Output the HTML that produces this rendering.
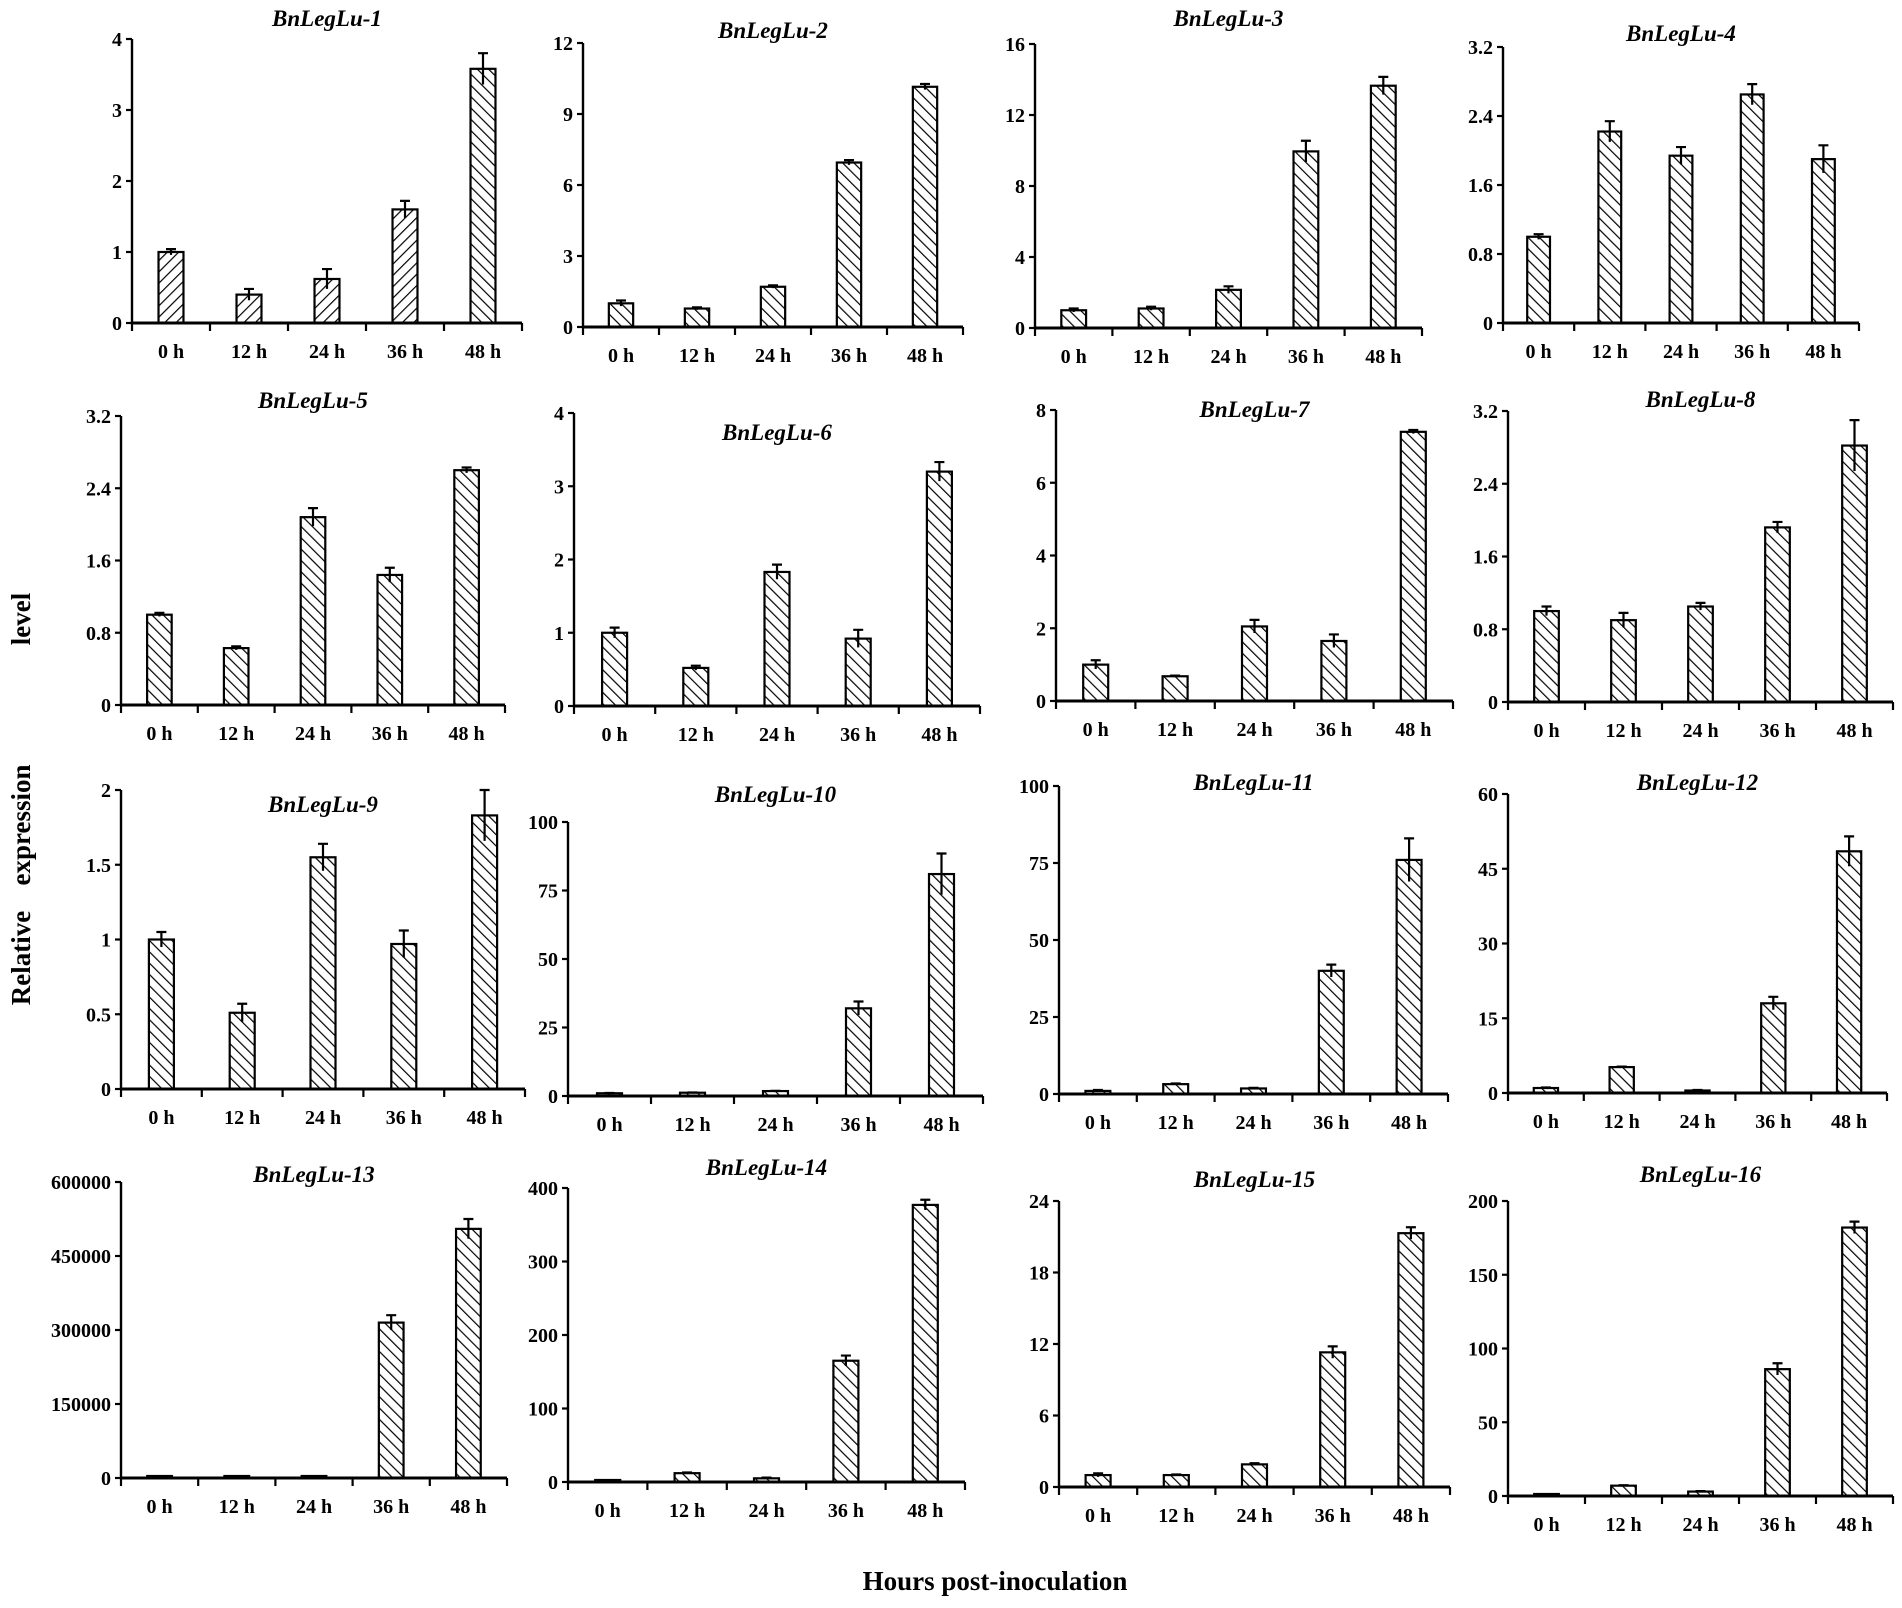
<!DOCTYPE html>
<html><head><meta charset="utf-8"><style>
html,body{margin:0;padding:0;background:#fff;}
svg{display:block;}
text{font-family:"Liberation Serif",serif;font-weight:bold;fill:#000;}
</style></head><body>
<svg id="fig" width="1902" height="1608" viewBox="0 0 1902 1608" xmlns="http://www.w3.org/2000/svg">
<defs>
<pattern id="hatchB" patternUnits="userSpaceOnUse" width="8" height="8" patternTransform="rotate(-45)">
<rect width="8" height="8" fill="#fff"/><line x1="0" y1="0" x2="0" y2="8" stroke="#000" stroke-width="2.4"/></pattern>
<pattern id="hatchF" patternUnits="userSpaceOnUse" width="8" height="8" patternTransform="rotate(45)">
<rect width="8" height="8" fill="#fff"/><line x1="0" y1="0" x2="0" y2="8" stroke="#000" stroke-width="2.4"/></pattern>
</defs>
<text transform="translate(30,958) rotate(-90)" text-anchor="middle" font-size="27">Relative</text>
<text transform="translate(30,825) rotate(-90)" text-anchor="middle" font-size="27">expression</text>
<text transform="translate(30,619) rotate(-90)" text-anchor="middle" font-size="27">level</text>
<text x="995" y="1590" text-anchor="middle" font-size="27">Hours post-inoculation</text>
</svg>
<script>
const categories = ["0 h","12 h","24 h","36 h","48 h"];
const titles = ["BnLegLu-1","BnLegLu-2","BnLegLu-3","BnLegLu-4","BnLegLu-5","BnLegLu-6","BnLegLu-7","BnLegLu-8","BnLegLu-9","BnLegLu-10","BnLegLu-11","BnLegLu-12","BnLegLu-13","BnLegLu-14","BnLegLu-15","BnLegLu-16"];
const seriesValues = [
 [1.0,0.4,0.62,1.6,3.58],
 [1.0,0.78,1.7,6.95,10.15],
 [1.0,1.1,2.15,9.95,13.65],
 [1.0,2.22,1.94,2.65,1.9],
 [1.0,0.63,2.08,1.44,2.6],
 [1.0,0.52,1.83,0.92,3.2],
 [1.0,0.68,2.05,1.65,7.4],
 [1.0,0.9,1.05,1.92,2.82],
 [1.0,0.51,1.55,0.97,1.83],
 [1,1.2,1.8,32,81],
 [1,3.2,1.8,40,76],
 [1,5.2,0.5,18,48.5],
 [1,1,1,315000,505000],
 [1,12,5,165,377],
 [1,1,1.9,11.3,21.3],
 [1,7,3,86,182]
];
const seriesErrors = [
 [0.04,0.08,0.14,0.12,0.22],
 [0.12,0.05,0.06,0.1,0.12],
 [0.1,0.1,0.2,0.6,0.5],
 [0.03,0.12,0.1,0.12,0.16],
 [0.02,0.02,0.1,0.08,0.03],
 [0.07,0.03,0.1,0.12,0.13],
 [0.12,0.02,0.18,0.18,0.05],
 [0.05,0.08,0.04,0.06,0.28],
 [0.05,0.06,0.09,0.09,0.17],
 [0.1,0.1,0.1,2.5,7.5],
 [0.3,0.2,0.2,2,7],
 [0.1,0.1,0.1,1.3,3],
 [0,0,0,15000,20000],
 [0,1,1,7,7],
 [0.15,0.05,0.1,0.5,0.5],
 [0.1,0.3,0.3,4,4]
];
const tickMax = [4,12,16,3.2,3.2,4,8,3.2,2,100,100,60,600000,400,24,200];
const tickStep = [1,3,4,0.8,0.8,1,2,0.8,0.5,25,25,15,150000,100,6,50];
</script>
<script>
// layout (pixels): axis x, baseline y, top y, plot end x, title baseline y
const layout = [
 [132,323,39,522,26],[583,327,43,963,38],[1035,328,44,1422,26],[1503,323,47,1859,41],
 [121,705,416,505,408],[574,706,413,980,440],[1056,701,410,1453,417],[1508,702,411,1893,407],
 [121,1089,790,525,812],[568,1096,822,983,802],[1059,1094,786,1448,790],[1508,1093,794,1887,790],
 [121,1478,1182,507,1182],[568,1482,1188,965,1175],[1059,1487,1201,1450,1187],[1508,1496,1201,1893,1182]
];
const NS="http://www.w3.org/2000/svg";
const svg=document.getElementById('fig');
function mk(tag,attrs,parent){const e=document.createElementNS(NS,tag);for(const k in attrs)e.setAttribute(k,attrs[k]);(parent||svg).appendChild(e);return e;}
function fmt(v){return String(Math.round(v*1000)/1000);}
titles.forEach((t,p)=>{
  const [ax,by,ty,ex,tb]=layout[p];
  const g=mk('g',{});
  
  
  const yScale=v=>by-(v/tickMax[p])*(by-ty);
  const cw=(ex-ax)/categories.length;
  const xCenter=i=>ax+cw*(i+0.5);
  const bw=Math.min(25,cw*0.32);
  const tt=mk('text',{x:(ax+ex)/2,y:tb,'text-anchor':'middle','font-size':23,'font-style':'italic'},g);
  
  
  tt.textContent=t;
  seriesValues[p].forEach((v,i)=>{
    const y=yScale(v);const h=Math.max(by-y,2);
    const pat=(p===0&&i<4)?'url(#hatchF)':'url(#hatchB)';
    const r=mk('rect',{x:xCenter(i)-bw/2,y:by-h,width:bw,height:h,fill:pat,stroke:'#000','stroke-width':2.2},g);
    
    
    const e=seriesErrors[p][i];
    if(e>0){
      const y1=yScale(v+e),y0=yScale(Math.max(v-e,0));
      const el=mk('path',{d:`M${xCenter(i)},${y0}V${y1}M${xCenter(i)-5},${y1}H${xCenter(i)+5}`,stroke:'#000','stroke-width':2.2,fill:'none'},g);
      
      
    }
  });
  const ya=mk('path',{d:`M${ax},${ty}V${by}`,stroke:'#000','stroke-width':2.4,fill:'none'},g);
  
  
  const n=Math.round(tickMax[p]/tickStep[p]);
  for(let k=0;k<=n;k++){
    const v=k*tickStep[p];const y=yScale(v);
    mk('line',{x1:ax-6,x2:ax,y1:y,y2:y,stroke:'#000','stroke-width':2.2},g);
    const tl=mk('text',{x:ax-10,y:y+7,'text-anchor':'end','font-size':20},g);
    
    
    tl.textContent=fmt(v);
  }
  const xa=mk('path',{d:`M${ax},${by}H${ex}`,stroke:'#000','stroke-width':3,fill:'none'},g);
  
  
  for(let i=0;i<=categories.length;i++){
    mk('line',{x1:ax+cw*i,x2:ax+cw*i,y1:by,y2:by+8,stroke:'#000','stroke-width':2.2},g);
  }
  categories.forEach((c,i)=>{
    const xl=mk('text',{x:xCenter(i),y:by+35,'text-anchor':'middle','font-size':20},g);
    
    
    xl.textContent=c;
  });
});
</script>
</body></html>
